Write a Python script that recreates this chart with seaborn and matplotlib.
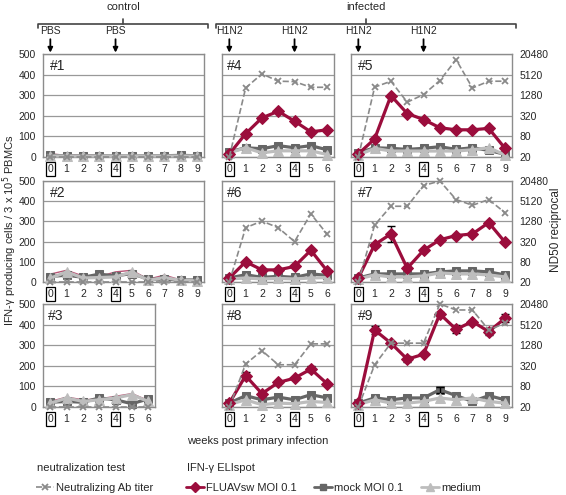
import matplotlib.pyplot as plt
import seaborn as sns
from matplotlib.lines import Line2D

# IFN-g ELIspot (spots / 3 x 10^5 PBMCs) and neutralizing titer per animal
weeks_10 = [0, 1, 2, 3, 4, 5, 6, 7, 8, 9]
weeks_7 = [0, 1, 2, 3, 4, 5, 6]

fluav_1 = [15, 8, 12, 6, 5, 6, 5, 8, 12, 6]
mock_1 = [8, 6, 6, 6, 5, 5, 6, 6, 8, 6]
medium_1 = [5, 5, 5, 5, 4, 5, 5, 5, 5, 5]
titer_1 = [20, 20, 20, 20, 20, 20, 20, 20, 20, 20]

fluav_2 = [39, 58, 30, 27, 50, 58, 14, 34, 10, 8]
mock_2 = [27, 34, 23, 39, 30, 42, 14, 14, 10, 10]
medium_2 = [19, 50, 20, 22, 25, 50, 8, 22, 8, 6]
titer_2 = [20, 20, 20, 20, 20, 20, 20, 20, 20, 20]

fluav_3 = [27, 48, 35, 39, 52, 65, 32]
mock_3 = [23, 27, 23, 44, 35, 16, 39]
medium_3 = [18, 44, 27, 35, 44, 60, 27]
titer_3 = [20, 20, 20, 20, 20, 20, 20]

fluav_4 = [15, 113, 190, 222, 174, 122, 132]
mock_4 = [25, 45, 40, 55, 45, 55, 35]
medium_4 = [20, 45, 20, 30, 30, 30, 12]
titer_4 = [20, 2080, 5400, 3280, 3200, 2180, 2180]

fluav_5 = [15, 88, 298, 211, 182, 142, 132, 132, 139, 42]
mock_5 = [20, 45, 42, 37, 42, 50, 37, 45, 32, 13]
medium_5 = [10, 42, 29, 29, 29, 29, 29, 35, 45, 10]
titer_5 = [20, 2200, 3280, 800, 1340, 3430, 14000, 2080, 3280, 3280]

fluav_6 = [20, 100, 60, 60, 77, 157, 55]
mock_6 = [20, 36, 23, 28, 23, 40, 33]
medium_6 = [15, 20, 15, 18, 15, 20, 22]
titer_6 = [20, 830, 1310, 830, 320, 2150, 530]

fluav_7 = [20, 185, 238, 68, 157, 209, 230, 238, 294, 197]
mock_7 = [20, 40, 40, 40, 40, 50, 55, 55, 50, 35]
medium_7 = [15, 35, 25, 25, 30, 45, 40, 40, 35, 25]
titer_7 = [20, 1000, 3620, 3620, 15000, 20480, 5720, 3880, 5720, 2320]

fluav_8 = [19, 152, 65, 119, 140, 184, 113]
mock_8 = [19, 55, 35, 48, 35, 60, 44]
medium_8 = [12, 35, 11, 19, 16, 27, 22]
titer_8 = [20, 360, 890, 343, 343, 1400, 1400]

fluav_9 = [19, 374, 310, 232, 256, 452, 377, 415, 366, 431]
mock_9 = [19, 44, 35, 44, 44, 84, 55, 27, 55, 35]
medium_9 = [12, 35, 19, 19, 27, 44, 35, 44, 27, 19]
titer_9 = [20, 343, 1470, 1470, 1470, 20480, 13700, 13700, 3570, 5600]

# error bars (FLUAVsw), 0 = none visible
err_5 = [0, 0, 0, 0, 8, 0, 8, 8, 8, 0]
err_7 = [0, 10, 40, 0, 0, 0, 0, 0, 0, 0]
err_8 = [0, 20, 0, 0, 0, 15, 0]
err_9 = [0, 20, 0, 15, 0, 8, 20, 0, 15, 20]

RED = '#9b0d3c'
DARK = '#666666'
LIGHT = '#bdbdbd'
TITER = '#8a8a8a'

sns.set_theme(style='white')
plt.rcParams['font.family'] = ['Liberation Sans', 'DejaVu Sans']
plt.rcParams['font.size'] = 8

W, H = 566, 495
fig = plt.figure(figsize=(W / 100, H / 100), dpi=100)

STEP = 16.3
row_px = [(54, 157), (181, 282), (304, 407)]
col_px = [43, 222, 351]

# (label, row, col, weeks, fluav, mock, medium, titer, err)
panels = [
    ('#1', 0, 0, weeks_10, fluav_1, mock_1, medium_1, titer_1, None),
    ('#2', 1, 0, weeks_10, fluav_2, mock_2, medium_2, titer_2, None),
    ('#3', 2, 0, weeks_7, fluav_3, mock_3, medium_3, titer_3, None),
    ('#4', 0, 1, weeks_7, fluav_4, mock_4, medium_4, titer_4, None),
    ('#6', 1, 1, weeks_7, fluav_6, mock_6, medium_6, titer_6, None),
    ('#8', 2, 1, weeks_7, fluav_8, mock_8, medium_8, titer_8, err_8),
    ('#5', 0, 2, weeks_10, fluav_5, mock_5, medium_5, titer_5, err_5),
    ('#7', 1, 2, weeks_10, fluav_7, mock_7, medium_7, titer_7, err_7),
    ('#9', 2, 2, weeks_10, fluav_9, mock_9, medium_9, titer_9, err_9),
]

axes = {}
for label, r, c, wk, fl, mo, me, ti, err in panels:
    n = len(wk)
    top, bot = row_px[r]
    left = col_px[c]
    right = left + STEP * (n - 0.1)
    ax = fig.add_axes([left / W, 1 - bot / H, (right - left) / W, (bot - top) / H])
    axes[label] = ax
    ax.set_xlim(-0.45, n - 0.55)
    ax.set_ylim(0, 500)
    ax.set_yticks([0, 100, 200, 300, 400, 500])
    ax.grid(axis='y', color='#999999', lw=0.9)
    ax.set_axisbelow(True)
    for s in ax.spines.values():
        s.set_color('#8c8c8c')
        s.set_linewidth(1.0)

    sns.lineplot(x=wk, y=me, ax=ax, color=LIGHT, lw=2.3, marker='^', ms=7,
                 mec=LIGHT, clip_on=False, zorder=3)
    sns.lineplot(x=wk, y=mo, ax=ax, color=DARK, lw=2.3, marker='s', ms=6,
                 mec=DARK, clip_on=False, zorder=2)
    if c == 0:
        sns.lineplot(x=wk, y=fl, ax=ax, color=RED, lw=1.0, alpha=0.7, zorder=1)
    else:
        sns.lineplot(x=wk, y=fl, ax=ax, color=RED, lw=2.3, marker='D', ms=6.5,
                     mec=RED, clip_on=False, zorder=4)
    if err is not None:
        ax.errorbar(wk, fl, yerr=err, fmt='none', ecolor='black', elinewidth=1,
                    capsize=3, capthick=1, zorder=3.5)
    if label == '#9':
        ax.errorbar([5], [mock_9[5]], yerr=[15], fmt='none', ecolor='black',
                    elinewidth=1, capsize=3, zorder=2.5)

    ax2 = ax.twinx()
    ax2.set_yscale('log', base=4)
    ax2.set_ylim(20, 20480)
    sns.lineplot(x=wk, y=ti, ax=ax2, color=TITER, lw=1.2, ls='--', marker='x',
                 ms=5, mew=1.3, mec=TITER, clip_on=False)
    ax2.set_ylabel('')
    ax2.minorticks_off()
    for s in ax2.spines.values():
        s.set_visible(False)
    if c == 2:
        ax2.set_yticks([20, 80, 320, 1280, 5120, 20480])
        ax2.set_yticklabels(['20', '80', '320', '1280', '5120', '20480'])
        ax2.tick_params(axis='y', length=0, pad=5, labelsize=7.5)
    else:
        ax2.set_yticks([])

    ax.set_xticks(wk)
    ax.set_xticklabels([str(w) for w in wk])
    ax.tick_params(axis='x', length=0, pad=5, labelsize=7.5)
    for i, tl in enumerate(ax.get_xticklabels()):
        if i in (0, 4):
            tl.set_bbox(dict(boxstyle='square,pad=0.18', fc='white', ec='black', lw=0.9))
    if c == 0:
        ax.tick_params(axis='y', length=0, pad=5, labelsize=7.5)
    else:
        ax.set_yticklabels([])
        ax.tick_params(axis='y', length=0)
    ax.text(0.04, 0.95, label, transform=ax.transAxes, ha='left', va='top', fontsize=10)

# vaccination arrows
for label, word in [('#1', 'PBS'), ('#4', 'H1N2'), ('#5', 'H1N2')]:
    for wk in (0, 4):
        axes[label].annotate(word, xy=(wk, 1.0), xycoords=('data', 'axes fraction'),
                             xytext=(0, 13), textcoords='offset points',
                             ha='center', va='bottom', fontsize=7.5,
                             arrowprops=dict(arrowstyle='-|>', color='black', lw=1.3,
                                             mutation_scale=7, shrinkA=0, shrinkB=1))

# group braces
over = fig.add_axes([0, 0, 1, 1])
over.set_xlim(0, W)
over.set_ylim(H, 0)
over.axis('off')
for x0, x1, txt in [(38, 208, 'control'), (216, 516, 'infected')]:
    xm = (x0 + x1) / 2
    over.plot([x0, x0, x1, x1], [28, 24, 24, 28], color='#444444', lw=1.2)
    over.plot([xm, xm], [24, 19], color='#444444', lw=1.2)
    over.text(xm, 7, txt, ha='center', va='center', fontsize=8)

fig.text(10 / W, 1 - 230 / H, 'IFN-γ producing cells / 3 x 10$^5$ PBMCs', rotation=90,
         ha='center', va='center', fontsize=8)
fig.text(556 / W, 1 - 230 / H, 'ND50 reciprocal', rotation=90,
         ha='center', va='center', fontsize=8.5)
fig.text(187 / W, 1 - 441 / H, 'weeks post primary infection', ha='left', va='center', fontsize=8)
fig.text(37 / W, 1 - 468 / H, 'neutralization test', ha='left', va='center', fontsize=8)
fig.text(187 / W, 1 - 468 / H, 'IFN-γ ELIspot', ha='left', va='center', fontsize=8)

h_titer = Line2D([], [], color=TITER, lw=1.2, ls='--', marker='x', ms=5, mew=1.3)
h_fluav = Line2D([], [], color=RED, lw=2.0, marker='D', ms=5)
h_mock = Line2D([], [], color=DARK, lw=2.0, marker='s', ms=5)
h_med = Line2D([], [], color=LIGHT, lw=2.0, marker='^', ms=6)
leg_kw = dict(frameon=False, fontsize=8, handlelength=1.6, handletextpad=0.2,
              borderaxespad=0, borderpad=0, loc='center left')
fig.legend([h_titer], ['Neutralizing Ab titer'], bbox_to_anchor=(36 / W, 1 - 488 / H), **leg_kw)
fig.legend([h_fluav, h_mock, h_med], ['FLUAVsw MOI 0.1', 'mock MOI 0.1', 'medium'],
           ncol=3, columnspacing=1.6, bbox_to_anchor=(186 / W, 1 - 488 / H), **leg_kw)

fig.savefig('out.png', dpi=100)
